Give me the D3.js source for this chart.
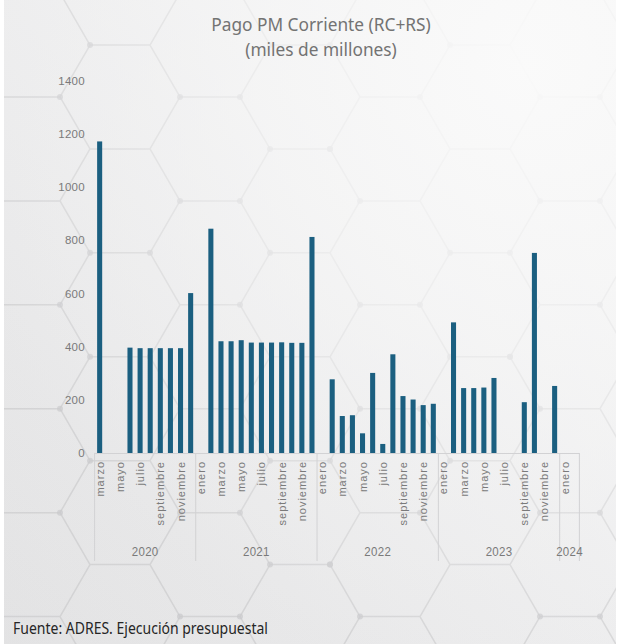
<!DOCTYPE html>
<html>
<head>
<meta charset="utf-8">
<script src="https://cdn.jsdelivr.net/npm/d3@7"></script>
<style>
  html, body { margin: 0; padding: 0; background: #ffffff; }
  svg { display: block; }
</style>
</head>
<body>
<div id="chart"></div>
<script>
// ---------- DATA ----------
const monthNames = ["enero","febrero","marzo","abril","mayo","junio","julio","agosto","septiembre","octubre","noviembre","diciembre"];
const years = ["2020","2021","2022","2023","2024"];
const startMonthIndex = 2;   // marzo 2020
const values2020 = [1171, 0, 0, 396, 394, 394, 394, 394, 394, 601];                 // mar-dic
const values2021 = [0, 843, 420, 420, 424, 415, 415, 415, 416, 414, 414, 812];      // ene-dic
const values2022 = [0, 277, 139, 142, 74, 301, 34, 371, 214, 201, 180, 185];        // ene-dic
const values2023 = [0, 491, 244, 244, 246, 282, 0, 0, 191, 752, 0, 252];            // ene-dic
const values2024 = [0];                                                               // ene
const yTicks = [0, 200, 400, 600, 800, 1000, 1200, 1400];
const titleLines = ["Pago PM Corriente (RC+RS)", "(miles de millones)"];
const sourceText = "Fuente: ADRES. Ejecución presupuestal";

// categories (month + year) built from the arrays above
const yearValues = [values2020, values2021, values2022, values2023, values2024];
const categories = [];
yearValues.forEach((vals, yi) => {
  vals.forEach((v, mi) => {
    const m = yi === 0 ? mi + startMonthIndex : mi;
    categories.push({ key: years[yi] + "-" + m, month: monthNames[m], year: years[yi], value: v });
  });
});

// ---------- LAYOUT ----------
const W = 618, H = 644;
const svg = d3.select("#chart").append("svg").attr("width", W).attr("height", H);
const defs = svg.append("defs");

// background gradient
const bg = defs.append("linearGradient").attr("id", "bgGrad")
  .attr("x1", "0").attr("y1", "1").attr("x2", "1").attr("y2", "0");
bg.append("stop").attr("offset", "0%").attr("stop-color", "#e2e2e3");
bg.append("stop").attr("offset", "55%").attr("stop-color", "#eeeeef");
bg.append("stop").attr("offset", "100%").attr("stop-color", "#fbfbfb");

const fade = defs.append("radialGradient").attr("id", "fadeGrad")
  .attr("cx", "0.85").attr("cy", "0.1").attr("r", "0.95");
fade.append("stop").attr("offset", "0%").attr("stop-color", "#fafafa").attr("stop-opacity", 0.97);
fade.append("stop").attr("offset", "45%").attr("stop-color", "#f6f6f6").attr("stop-opacity", 0.7);
fade.append("stop").attr("offset", "100%").attr("stop-color", "#f0f0f0").attr("stop-opacity", 0.05);

defs.append("clipPath").attr("id", "bgClip").append("rect")
  .attr("x", 4).attr("y", 0).attr("width", W - 6).attr("height", H);

const bgG = svg.append("g").attr("clip-path", "url(#bgClip)");
bgG.append("rect").attr("x", 4).attr("y", 0).attr("width", W - 6).attr("height", H).attr("fill", "url(#bgGrad)");

// decorative hexagon lattice (background texture)
const hexR = 60, hexH = hexR * Math.sqrt(3) / 2;
const hexPath = d3.path();
const nodes = [];
for (let col = -1; col < 9; col++) {
  for (let row = -1; row < 9; row++) {
    const cx = col * hexR * 1.5 + 30;
    const cy = row * hexH * 2 + (col % 2 ? hexH : 0) + 45;
    for (let k = 0; k < 6; k++) {
      const a0 = Math.PI / 3 * k, a1 = Math.PI / 3 * (k + 1);
      const x0 = cx + hexR * Math.cos(a0), y0 = cy + hexR * Math.sin(a0);
      const x1 = cx + hexR * Math.cos(a1), y1 = cy + hexR * Math.sin(a1);
      hexPath.moveTo(x0, y0); hexPath.lineTo(x1, y1);
      if ((col + row + k) % 4 === 0) nodes.push([x0, y0]);
    }
  }
}
bgG.append("path").attr("d", hexPath.toString())
  .attr("fill", "none").attr("stroke", "#c4c4c6").attr("stroke-width", 1.5).attr("opacity", 0.6);
bgG.append("g").selectAll("circle").data(nodes).join("circle")
  .attr("cx", d => d[0]).attr("cy", d => d[1]).attr("r", 3)
  .attr("fill", "#c8c8ca").attr("opacity", 0.7);
bgG.append("rect").attr("x", 4).attr("y", 0).attr("width", W - 6).attr("height", H).attr("fill", "url(#fadeGrad)");

// ---------- SCALES ----------
const x = d3.scaleBand()
  .domain(categories.map(d => d.key))
  .range([94.6, 569.8])
  .paddingInner(0.5)
  .paddingOuter(0.25);
const y = d3.scaleLinear().domain([0, 1400]).range([453, 80.5]);

const textColor = "#7a7a7a";
const lineColor = "#d2d2d4";

// ---------- TITLE ----------
const title = svg.append("g").attr("font-family", "'Noto Sans', sans-serif").attr("fill", "#737373");
titleLines.forEach((t, i) => {
  title.append("text")
    .attr("transform", `translate(321, ${31 + i * 24.5}) scale(1,1.05)`)
    .attr("text-anchor", "middle").attr("font-size", 17.3).text(t);
});

// ---------- Y AXIS ----------
const yAxis = svg.append("g").attr("transform", "translate(85,0)")
  .call(d3.axisLeft(y).tickValues(yTicks).tickSize(0).tickPadding(0).tickFormat(d3.format("d")));
yAxis.select(".domain").remove();
yAxis.selectAll("text")
  .attr("fill", textColor).attr("font-size", 11.5)
  .attr("font-family", "'Liberation Sans', Arial, sans-serif")
  .attr("letter-spacing", 0.3);

// ---------- BARS ----------
svg.append("g").selectAll("rect").data(categories).join("rect")
  .attr("x", d => x(d.key))
  .attr("width", x.bandwidth())
  .attr("y", d => y(d.value))
  .attr("height", d => y(0) - y(d.value))
  .attr("fill", "#1b5f80");

// ---------- X AXIS (months) ----------
const axisRight = 579.4;
svg.append("line").attr("x1", 94.6).attr("x2", axisRight).attr("y1", 453.5).attr("y2", 453.5)
  .attr("stroke", lineColor).attr("stroke-width", 1);

const xAxis = svg.append("g").attr("transform", "translate(0,453)")
  .call(d3.axisBottom(x).tickSize(0)
    .tickFormat((k, i) => {
      const c = categories[i];
      return monthNames.indexOf(c.month) % 2 === 0 ? c.month : "";
    }));
xAxis.select(".domain").remove();
xAxis.selectAll("text")
  .attr("transform", "rotate(-90)")
  .attr("text-anchor", "end")
  .attr("x", -8).attr("y", 0).attr("dy", "0.36em")
  .attr("fill", textColor).attr("font-size", 11)
  .attr("font-family", "'Liberation Sans', Arial, sans-serif")
  .attr("letter-spacing", 1);

// ---------- YEAR GROUPS ----------
const step = x.step();
const groupBounds = years.map((yr, i) => {
  const keys = categories.filter(c => c.year === yr).map(c => c.key);
  const x0 = x(keys[0]) - step * x.paddingInner() / 2;
  let x1 = x(keys[keys.length - 1]) + x.bandwidth() + step * x.paddingInner() / 2;
  if (i === years.length - 1) x1 = axisRight;
  return { year: yr, x0, x1 };
});
const sepXs = [groupBounds[0].x0].concat(groupBounds.map(g => g.x1));
svg.append("g").selectAll("line").data(sepXs).join("line")
  .attr("x1", d => d).attr("x2", d => d)
  .attr("y1", 453).attr("y2", 561)
  .attr("stroke", lineColor).attr("stroke-width", 1);

svg.append("g").selectAll("text").data(groupBounds).join("text")
  .attr("transform", g => `translate(${(g.x0 + g.x1) / 2}, 556) scale(1,1.15)`)
  .attr("text-anchor", "middle")
  .attr("fill", textColor).attr("font-size", 11.5)
  .attr("font-family", "'Liberation Sans', Arial, sans-serif")
  .attr("letter-spacing", 0.3)
  .text(g => g.year);

// ---------- SOURCE ----------
svg.append("text")
  .attr("transform", "translate(13, 634) scale(1,1.12)")
  .attr("font-family", "'Noto Sans', sans-serif")
  .attr("font-size", 14)
  .attr("fill", "#262626")
  .text(sourceText);
</script>
</body>
</html>
